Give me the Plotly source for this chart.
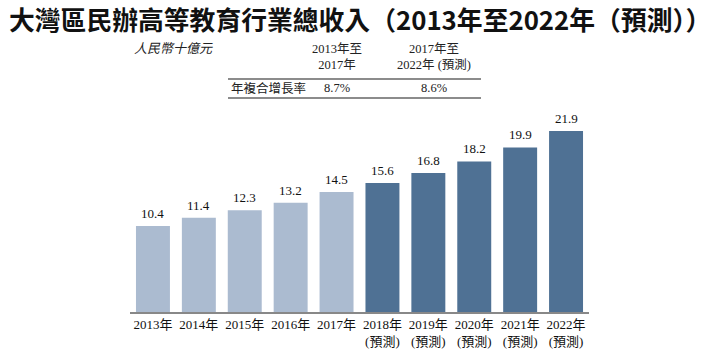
import plotly.graph_objects as go

years = ["2013年", "2014年", "2015年", "2016年", "2017年",
         "2018年<br>(預測)", "2019年<br>(預測)", "2020年<br>(預測)",
         "2021年<br>(預測)", "2022年<br>(預測)"]
values = [10.4, 11.4, 12.3, 13.2, 14.5, 15.6, 16.8, 18.2, 19.9, 21.9]
is_forecast = [False] * 5 + [True] * 5

title_text = "大灣區民辦高等教育行業總收入（2013年至2022年（預測））"
unit_text = "人民幣十億元"
cagr_label = "年複合增長率"
period_headers = ["2013年至<br>2017年", "2017年至<br>2022年 (預測)"]
cagr_values = ["8.7%", "8.6%"]

LIGHT = "#abbbd0"
DARK = "#4f7194"
SERIF = "Liberation Serif, Noto Sans CJK TC, serif"
W, H = 720, 352

xcat = list(range(len(values)))
fig = go.Figure()
fig.add_trace(go.Bar(
    x=xcat, y=values,
    marker=dict(color=[DARK if f else LIGHT for f in is_forecast], line=dict(width=0)),
    hoverinfo="skip",
))

for i, v in enumerate(values):
    fig.add_annotation(x=i, y=v, xref="x", yref="y", text=f"{v:.1f}",
                       showarrow=False, yanchor="bottom", yshift=3,
                       font=dict(family=SERIF, size=13, color="#111"))

def px_x(p):
    return p / W

def px_y(p):
    return 1 - p / H

# title
fig.add_annotation(x=0.5, y=px_y(18), xref="paper", yref="paper", text=f"<b>{title_text}</b>",
                   showarrow=False, xanchor="center", yanchor="middle",
                   font=dict(family="Noto Sans CJK TC, sans-serif", size=25.8, color="#111"))

# table texts
fig.add_annotation(x=px_x(132), y=px_y(48), xref="paper", yref="paper", text=f"<i>{unit_text}</i>",
                   showarrow=False, xanchor="left", yanchor="middle",
                   font=dict(family=SERIF, size=13, color="#222"))
col_x = [337, 434]
for cx, h, c in zip(col_x, period_headers, cagr_values):
    fig.add_annotation(x=px_x(cx), y=px_y(57), xref="paper", yref="paper", text=h,
                       showarrow=False, xanchor="center", yanchor="middle",
                       font=dict(family=SERIF, size=12.5, color="#222"))
    fig.add_annotation(x=px_x(cx), y=px_y(88), xref="paper", yref="paper", text=c,
                       showarrow=False, xanchor="center", yanchor="middle",
                       font=dict(family=SERIF, size=12.5, color="#222"))
fig.add_annotation(x=px_x(229), y=px_y(88), xref="paper", yref="paper", text=cagr_label,
                   showarrow=False, xanchor="left", yanchor="middle",
                   font=dict(family=SERIF, size=12.5, color="#222"))
for yy in (79, 98):
    fig.add_shape(type="line", xref="paper", yref="paper",
                  x0=px_x(228), x1=px_x(481), y0=px_y(yy), y1=px_y(yy),
                  line=dict(color="#666", width=1.5))

fig.update_layout(
    width=W, height=H,
    margin=dict(l=0, r=0, t=0, b=0),
    paper_bgcolor="white", plot_bgcolor="white",
    bargap=0.26, showlegend=False,
    xaxis=dict(domain=[px_x(130), px_x(589)], range=[-0.5, 9.5],
               tickmode="array", tickvals=xcat, ticktext=years,
               tickangle=0, automargin=False,
               showline=True, linecolor="#888", linewidth=1.5,
               showgrid=False, zeroline=False, ticks="",
               tickfont=dict(family=SERIF, size=13, color="#111")),
    yaxis=dict(domain=[px_y(312), px_y(112)], range=[0, 200 / 8.27],
               visible=False, showgrid=False, zeroline=False, automargin=False),
)

fig.write_html("out.html")
